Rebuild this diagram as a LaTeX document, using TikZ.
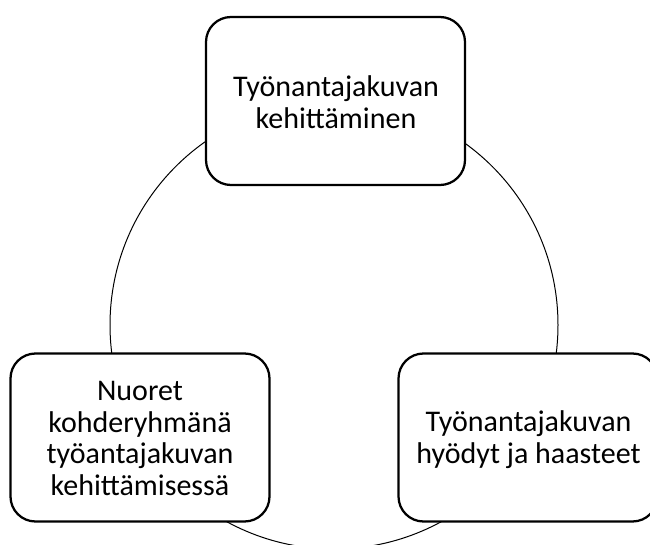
\documentclass[tikz,border=0pt]{standalone}
\usepackage{fontspec}
\setmainfont{Carlito}
\begin{document}
\begin{tikzpicture}[x=1pt,y=-1pt,
  stage/.style={draw=black, fill=white, line width=2.25pt, rounded corners=25pt,
    minimum width=259pt, minimum height=168pt, inner sep=0pt},
  stagetext/.style={align=center, font=\fontsize{30}{31.8}\selectfont, inner sep=0pt},
  cycleline/.style={draw=black, line width=1pt}]
\useasboundingbox (0,0) rectangle (650,545);
\clip (0,0) rectangle (650,545);
% the cycle behind the three stages
\coordinate (c) at (334,325);
\draw[cycleline] (c) circle[radius=224pt];
% stages
\node[stage] (top) at (335.5,101) {};
\node[stage] (left) at (140,437.5) {};
\node[stage] (right) at (528,437.5) {};
\node[stagetext] (toptext) at (336,102) {Työnantajakuvan\\kehittäminen};
\node[stagetext] (lefttext) at (140,438.5) {Nuoret\\kohderyhmänä\\työantajakuvan\\kehittämisessä};
\node[stagetext] (righttext) at (528.5,439.5) {Työnantajakuvan\\hyödyt ja haasteet};
\end{tikzpicture}
\end{document}
